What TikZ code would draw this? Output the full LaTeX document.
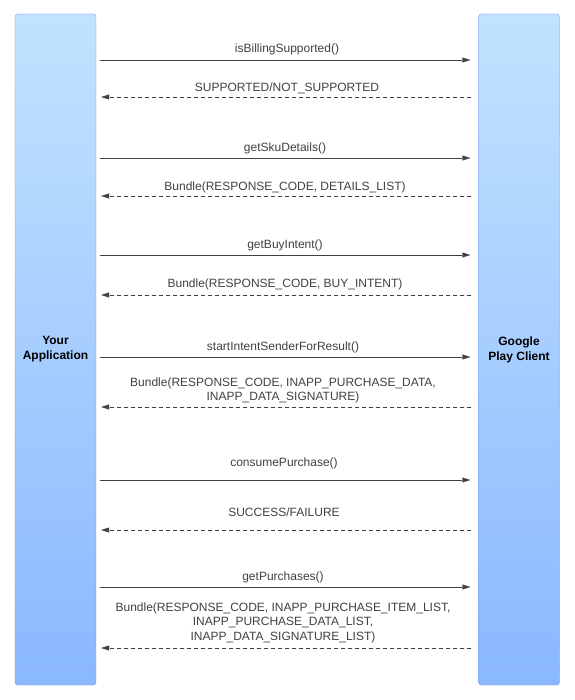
\documentclass[tikz,border=0pt]{standalone}
\usepackage{fontspec}
\setmainfont{Liberation Sans}
\usetikzlibrary{arrows.meta}
\definecolor{boxtop}{HTML}{C2E3FF}
\definecolor{boxbot}{HTML}{8AB8FF}
\definecolor{boxline}{HTML}{6F93EA}
\definecolor{msg}{HTML}{404040}

\begin{document}
\begin{tikzpicture}[x=1pt,y=-1pt,
    lane/.style={draw=boxline, rounded corners=3pt, top color=boxtop, bottom color=boxbot,
      minimum width=81pt, minimum height=671pt, inner sep=0pt, align=center,
      font=\fontsize{12}{15}\selectfont\bfseries},
    call/.style={draw=msg, -{Triangle[length=8pt,width=5pt]}, shorten <=4pt, shorten >=8pt},
    reply/.style={draw=msg, dash pattern=on 4pt off 3pt, -{Triangle[length=8pt,width=5pt]},
      shorten <=7pt, shorten >=5pt},
    lbl/.style={text=msg, align=center, font=\fontsize{12}{14.5}\selectfont}]
            \useasboundingbox (0,0) rectangle (574,700);
            \node[lane] (app) at (55.5,349.5) {Your\\Application};
            \node[lane] (gpc) at (519,349.5) {Google\\Play Client};
            \foreach \y [count=\i] in {60,97,158,196,255,295,357,407,480,530,587,648}
              \coordinate (m\i) at (0,\y);
            \draw[call] (app.east |- m1) -- (gpc.west |- m1);
            \draw[reply] (gpc.west |- m2) -- (app.east |- m2);
            \draw[call] (app.east |- m3) -- (gpc.west |- m3);
            \draw[reply] (gpc.west |- m4) -- (app.east |- m4);
            \draw[call] (app.east |- m5) -- (gpc.west |- m5);
            \draw[reply] (gpc.west |- m6) -- (app.east |- m6);
            \draw[call] (app.east |- m7) -- (gpc.west |- m7);
            \draw[reply] (gpc.west |- m8) -- (app.east |- m8);
            \draw[call] (app.east |- m9) -- (gpc.west |- m9);
            \draw[reply] (gpc.west |- m10) -- (app.east |- m10);
            \draw[call] (app.east |- m11) -- (gpc.west |- m11);
            \draw[reply] (gpc.west |- m12) -- (app.east |- m12);
            \node[lbl] (isbilling) at (287,49) {isBillingSupported()};
            \node[lbl] (supported) at (287,88) {SUPPORTED/NOT\_SUPPORTED};
            \node[lbl] (skudetails) at (285,148) {getSkuDetails()};
            \node[lbl] (skubundle) at (285,187) {Bundle(RESPONSE\_CODE, DETAILS\_LIST)};
            \node[lbl] (buyintent) at (285,245) {getBuyIntent()};
            \node[lbl] (buybundle) at (285,284) {Bundle(RESPONSE\_CODE, BUY\_INTENT)};
            \node[lbl] (startintent) at (283,347) {startIntentSenderForResult()};
            \node[lbl] (startbundle) at (283,390.5) {Bundle(RESPONSE\_CODE, INAPP\_PURCHASE\_DATA,\\INAPP\_DATA\_SIGNATURE)};
            \node[lbl] (consume) at (284,463) {consumePurchase()};
            \node[lbl] (success) at (284,512) {SUCCESS/FAILURE};
            \node[lbl] (purchases) at (283,577) {getPurchases()};
            \node[lbl] (purchbundle) at (283,622.5) {Bundle(RESPONSE\_CODE, INAPP\_PURCHASE\_ITEM\_LIST,\\INAPP\_PURCHASE\_DATA\_LIST,\\INAPP\_DATA\_SIGNATURE\_LIST)};
            \end{tikzpicture}
\end{document}
